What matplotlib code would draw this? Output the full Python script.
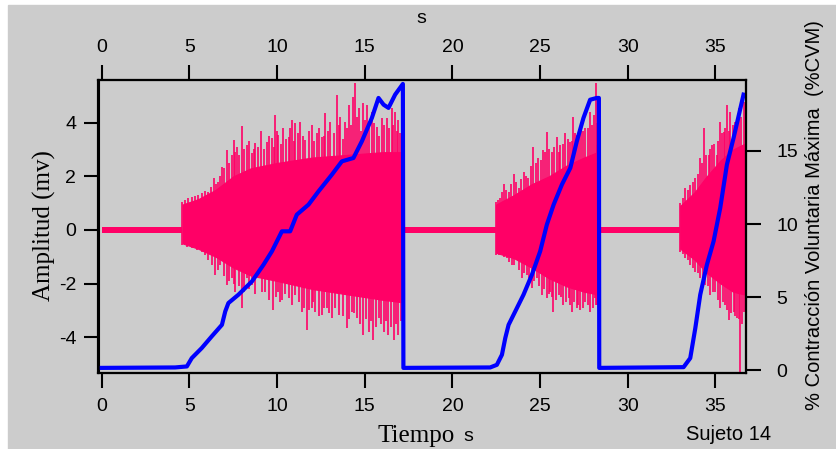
import numpy as np
import matplotlib.pyplot as plt
from matplotlib.patches import Rectangle

# EMG spike tips (time s, amplitude mv)
up_t = [4.60, 4.94, 5.32, 5.70, 6.08, 6.42, 6.65, 6.85, 7.13, 7.42, 7.51, 7.70, 7.99,
        8.27, 8.56, 8.75, 9.09, 9.41, 9.70, 9.89, 10.07, 10.36, 10.65, 10.84, 11.03,
        11.31, 11.60, 11.98, 12.26, 12.55, 12.74, 13.02, 13.41, 13.59, 13.88, 14.07,
        14.35, 14.45, 14.64, 14.92, 15.12, 15.40, 15.69, 15.97, 16.26, 16.54, 16.73,
        16.92, 17.11,
        22.49, 22.70, 22.95, 23.20, 23.48, 23.77, 24.05, 24.33, 24.62, 24.90, 25.19,
        25.38, 25.67, 25.95, 26.14, 26.43, 26.71, 26.90, 27.09, 27.32, 27.57, 27.86,
        28.09, 28.16, 28.27,
        32.99, 33.27, 33.56, 33.84, 34.13, 34.32, 34.61, 34.80, 35.08, 35.27, 35.46,
        35.65, 35.84, 36.13, 36.32, 36.60]
up_v = [1.03, 1.18, 1.28, 1.37, 1.43, 1.95, 1.80, 2.36, 2.98, 2.80, 3.35, 3.11, 3.88,
        3.17, 2.86, 3.23, 3.69, 3.29, 3.42, 4.29, 3.54, 3.79, 3.48, 4.10, 3.98,
        4.04, 3.35, 3.91, 3.60, 3.48, 4.35, 4.04, 5.03, 4.22, 4.04, 4.66,
        4.97, 5.47, 4.53, 4.72, 4.66, 4.41, 3.85, 4.16, 4.16, 4.53, 4.41,
        4.10, 3.91,
        1.06, 1.18, 1.70, 1.43, 2.07, 1.55, 2.17, 1.92, 3.11, 2.67, 2.98,
        3.66, 2.92, 3.48, 3.17, 3.60, 3.29, 4.22, 3.54, 3.98, 3.79, 4.41,
        4.29, 5.47, 3.17,
        1.00, 1.55, 1.68, 1.92, 2.67, 3.79, 2.80, 3.17, 2.80, 4.04, 3.66,
        4.66, 4.41, 4.04, 4.53, 4.78]
low_t = [4.60, 5.13, 5.70, 6.08, 6.46, 6.74, 7.13, 7.42, 7.61, 7.99, 8.27, 8.56, 8.94,
         9.32, 9.79, 10.07, 10.27, 10.65, 11.03, 11.41, 11.69, 11.98, 12.17, 12.55,
         12.83, 13.12, 13.50, 13.98, 14.26, 14.55, 14.92, 15.21, 15.49, 15.78, 16.07,
         16.35, 16.64, 16.92, 17.15,
         22.49, 22.81, 23.10, 23.39, 23.67, 23.96, 24.24, 24.53, 24.81, 25.10, 25.38,
         25.57, 25.76, 26.05, 26.33, 26.62, 26.81, 27.09, 27.28, 27.57, 27.86, 28.14,
         28.27,
         32.99, 33.27, 33.56, 33.84, 34.13, 34.41, 34.70, 34.98, 35.27, 35.56, 35.75,
         36.03, 36.22, 36.41, 36.60]
low_v = [-0.56, -0.68, -0.81, -1.12, -1.68, -1.30, -2.05, -1.80, -2.30, -2.92, -1.80,
         -2.05, -1.68, -2.30, -2.98, -2.30, -2.61, -2.55, -2.42, -3.04, -3.73, -2.92,
         -3.04, -3.17, -2.92, -3.29, -3.17, -3.66, -3.04, -3.29, -3.91, -3.79, -4.10,
         -3.29, -3.79, -3.91, -4.10, -3.91, -3.79,
         -0.93, -0.81, -1.06, -1.30, -1.12, -1.80, -1.68, -2.17, -1.80, -2.42, -2.55,
         -2.30, -3.04, -2.42, -2.80, -2.55, -3.04, -2.92, -2.98, -2.67, -3.04, -2.55,
         -2.80,
         -0.81, -1.06, -1.30, -1.55, -1.80, -2.05, -2.42, -2.30, -2.92, -2.80, -3.35,
         -3.04, -3.29, -5.28, -3.04]

# the shorter spikes in the fringe between the tips and the solid core
mid_up_t = [4.77, 5.13, 5.51, 5.89, 6.25, 6.54, 6.75, 6.99, 7.28, 7.60, 7.85, 8.13,
            8.42, 8.66, 8.92, 9.25, 9.55, 9.80, 9.98, 10.22, 10.50, 10.75, 10.94, 11.17,
            11.45, 11.79, 12.12, 12.40, 12.65, 12.88, 13.22, 13.50, 13.74, 13.98, 14.21,
            14.55, 14.78, 15.02, 15.26, 15.55, 15.83, 16.11, 16.40, 16.63, 16.83, 17.02,
            22.60, 22.83, 23.08, 23.34, 23.62, 23.91, 24.19, 24.48, 24.76, 25.05, 25.29,
            25.52, 25.81, 26.05, 26.29, 26.57, 26.80, 27.00, 27.20, 27.45, 27.70, 27.97,
            28.22,
            33.13, 33.42, 33.70, 33.98, 34.22, 34.46, 34.70, 34.94, 35.17, 35.37, 35.55,
            35.75, 35.98, 36.22, 36.45]
mid_up_v = [1.10, 1.22, 1.30, 1.45, 1.60, 1.70, 2.00, 2.30, 2.50, 2.90, 2.80, 3.00,
            3.30, 3.00, 3.10, 3.00, 3.50, 3.10, 3.70, 3.20, 3.40, 3.80, 3.30, 3.60,
            3.50, 3.70, 3.30, 3.80, 3.50, 3.70, 3.60, 3.90, 3.40, 3.80, 3.90,
            4.20, 3.70, 4.10, 3.80, 4.00, 3.50, 3.90, 3.80, 3.90, 3.70, 3.60,
            1.10, 1.40, 1.50, 1.70, 1.80, 1.90, 2.00, 2.40, 2.50, 2.60, 2.90,
            3.00, 3.10, 2.90, 3.20, 3.40, 3.30, 3.60, 3.50, 3.70, 3.80, 3.90,
            4.00,
            1.20, 1.50, 1.80, 2.10, 2.50, 2.80, 3.00, 3.20, 3.30, 3.60, 3.80,
            3.70, 3.90, 4.10, 4.20]
mid_low_t = [4.85, 5.40, 5.89, 6.27, 6.60, 6.94, 7.27, 7.51, 7.80, 8.13, 8.42, 8.75,
             9.13, 9.55, 9.93, 10.17, 10.46, 10.84, 11.22, 11.55, 11.83, 12.07, 12.36,
             12.69, 12.98, 13.31, 13.74, 14.12, 14.40, 14.73, 15.06, 15.35, 15.64, 15.92,
             16.21, 16.50, 16.78, 17.05,
             22.65, 22.95, 23.25, 23.53, 23.81, 24.10, 24.38, 24.67, 24.95, 25.24, 25.48,
             25.67, 25.90, 26.19, 26.48, 26.71, 26.95, 27.18, 27.43, 27.72, 28.00, 28.20,
             33.13, 33.42, 33.70, 33.98, 34.27, 34.55, 34.84, 35.12, 35.42, 35.65, 35.90,
             36.13, 36.32, 36.50]
mid_low_v = [-0.62, -0.75, -0.95, -1.30, -1.50, -1.70, -1.90, -2.00, -2.10, -2.30,
             -2.20, -2.40, -2.30, -2.60, -2.50, -2.70, -2.40, -2.80, -2.70, -2.90,
             -3.00, -2.70, -3.20, -2.90, -3.10, -2.90, -3.20, -3.30, -3.10, -3.50,
             -3.30, -3.40, -3.60, -3.50, -3.40, -3.60, -3.50, -3.40,
             -0.95, -1.00, -1.20, -1.30, -1.50, -1.60, -1.80, -1.90, -2.10, -2.20,
             -2.40, -2.50, -2.60, -2.50, -2.70, -2.80, -2.70, -2.80, -2.90, -2.80,
             -2.90, -2.80,
             -0.90, -1.10, -1.40, -1.60, -1.90, -2.10, -2.30, -2.60, -2.70, -3.00,
             -3.10, -3.20, -3.30, -3.50]

# solid core of each burst (time, upper, lower)
core_t = [[4.60, 5.5, 6.5, 7.5, 8.5, 10.0, 12.0, 14.0, 16.0, 17.2],
          [22.49, 23.5, 24.5, 25.5, 26.5, 27.5, 28.27],
          [32.99, 33.8, 34.5, 35.3, 36.0, 36.62]]
core_hi = [[0.95, 1.15, 1.5, 2.0, 2.3, 2.5, 2.7, 2.8, 2.9, 2.9],
           [0.95, 1.3, 1.7, 2.0, 2.4, 2.7, 2.9],
           [0.9, 1.4, 2.0, 2.6, 3.0, 3.2]]
core_lo = [[-0.5, -0.7, -1.0, -1.4, -1.7, -1.9, -2.2, -2.4, -2.6, -2.7],
           [-0.85, -1.05, -1.4, -1.8, -2.1, -2.3, -2.4],
           [-0.7, -1.1, -1.6, -2.0, -2.3, -2.4]]

# resting baseline stretches
rest_t = [[0.0, 4.60], [17.22, 22.49], [28.30, 32.99]]
rest_amp = 0.1

# %CVM force trace
cvm_t = [0.0, 4.18, 4.85, 5.13, 5.70, 6.27, 6.85, 7.04, 7.22, 7.79, 8.56, 9.22, 9.70,
         10.27, 10.74, 11.12, 11.79, 12.36, 13.12, 13.69, 14.35, 14.83, 15.40, 15.78,
         16.07, 16.35, 16.73, 17.17, 17.20,
         22.15, 22.53, 22.82, 23.01, 23.20, 23.58, 24.05, 24.53, 25.00, 25.38, 25.77,
         26.24, 26.72, 27.09, 27.47, 27.85, 28.23, 28.35, 28.37,
         33.18, 33.56, 33.85, 34.13, 34.51, 34.89, 35.27, 35.65, 36.03, 36.60]
cvm_v = [0.15, 0.18, 0.25, 0.82, 1.51, 2.31, 3.10, 4.02, 4.59, 5.16, 6.07, 7.21, 8.13,
         9.50, 9.50, 10.64, 11.33, 12.24, 13.38, 14.29, 14.52, 15.66, 17.26, 18.63,
         18.17, 17.95, 18.86, 19.59, 0.15,
         0.18, 0.36, 1.05, 2.19, 3.10, 4.02, 5.16, 6.53, 8.13, 9.95, 11.33,
         12.70, 13.84, 15.66, 17.26, 18.51, 18.63, 18.63, 0.15,
         0.20, 0.82, 2.88, 5.16, 7.21, 8.81, 11.10, 14.06, 15.89, 18.86]

xticks = [0, 5, 10, 15, 20, 25, 30, 35]
emg_ticks = [-4, -2, 0, 2, 4]
cvm_ticks = [0, 5, 10, 15]

pink = '#ff0066'
blue = '#0000ff'
gray = '#cccccc'
sans = ['Liberation Sans', 'DejaVu Sans']
serif = ['Liberation Serif', 'DejaVu Serif']
plt.rcParams['font.family'] = sans
plt.rcParams['axes.unicode_minus'] = False

fig = plt.figure(figsize=(8.36, 4.49), dpi=100)
fig.patch.set_facecolor('white')
fig.patches.append(Rectangle((8 / 836, 0), 1, 444 / 449, transform=fig.transFigure,
                             color=gray, zorder=-10))

ax = fig.add_axes([98.5 / 836, 76 / 449, 647.5 / 836, 293 / 449])
ax.set_facecolor(gray)

for (t0, t1) in rest_t:
    ax.fill_between([t0, t1], [-rest_amp, -rest_amp], [rest_amp, rest_amp],
                    color=pink, lw=0)
for ct, hi, lo in zip(core_t, core_hi, core_lo):
    ax.fill_between(ct, lo, hi, color=pink, lw=0.8, edgecolor=pink)
ax.vlines(up_t, 0, up_v, color=pink, lw=1.2)
ax.vlines(low_t, low_v, 0, color=pink, lw=1.2)
ax.vlines(mid_up_t, 0, mid_up_v, color=pink, lw=1.2)
ax.vlines(mid_low_t, mid_low_v, 0, color=pink, lw=1.2)

ax.set_xlim(-0.19, 36.74)
ax.set_ylim(-5.33, 5.59)
ax.set_xticks(xticks)
ax.set_yticks(emg_ticks)

axr = ax.twinx()
axr.plot(cvm_t, cvm_v, color=blue, lw=3, solid_joinstyle='round')
axr.set_ylim(-0.2, 19.86)
axr.set_yticks(cvm_ticks)

axt = ax.twiny()
axt.set_xlim(ax.get_xlim())
axt.set_xticks(xticks)

for a in (ax, axr, axt):
    for s in a.spines.values():
        s.set_linewidth(1.5)
    a.tick_params(length=11, width=1.5, labelsize=14, color='black')
ax.tick_params(axis='x', pad=7)
ax.tick_params(axis='y', pad=5)
axt.tick_params(axis='x', pad=6)
axr.tick_params(axis='y', pad=11)

fig.text(44 / 836, 1 - 226 / 449, 'Amplitud (mv)', rotation=90, ha='center', va='center',
         family=serif, fontsize=18)
fig.text(377 / 836, 1 - 442 / 449, 'Tiempo', ha='left', va='baseline',
         family=serif, fontsize=18)
fig.text(463 / 836, 1 - 441 / 449, 's', ha='left', va='baseline', fontsize=14)
fig.text(421 / 836, 1 - 23 / 449, 's', ha='center', va='baseline', fontsize=14)
fig.text(814 / 836, 1 - 215 / 449, '% Contracción Voluntaria Máxima  (%CVM)',
         rotation=90, ha='center', va='center', fontsize=14.5)
fig.text(686 / 836, 1 - 440 / 449, 'Sujeto 14', ha='left', va='baseline', fontsize=14.5)

fig.savefig('out.png', dpi=100, facecolor=fig.get_facecolor())
